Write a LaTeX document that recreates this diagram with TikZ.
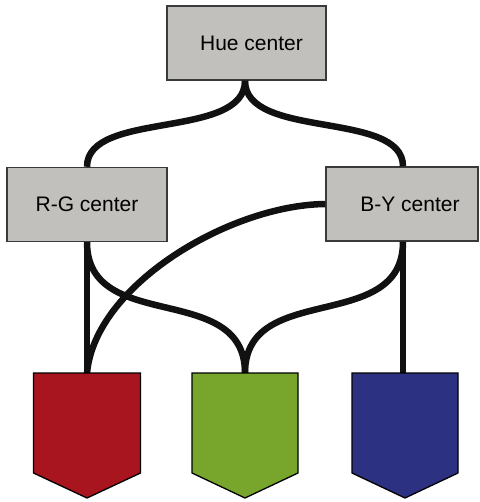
\documentclass[tikz,border=0pt]{standalone}
\usepackage{fontspec}
\setmainfont{Liberation Sans}
\definecolor{boxgray}{HTML}{C2C0BC}
\definecolor{boxedge}{HTML}{3A3A3A}
\definecolor{cred}{HTML}{A8151F}
\definecolor{cgreen}{HTML}{78A52C}
\definecolor{cblue}{HTML}{2C3181}
\definecolor{wire}{HTML}{111111}
\begin{document}
\begin{tikzpicture}[x=1pt,y=-1pt,
  centerbox/.style={draw=boxedge,fill=boxgray,line width=1.4pt,inner sep=0pt,
    minimum height=74pt,font=\fontsize{21}{24}\selectfont},
  wireline/.style={draw=wire,line width=6.5pt},
  cone/.style={draw=black,line width=1.3pt,line join=miter}]
\useasboundingbox (0,0) rectangle (479,502);
% boxes
\node[centerbox,minimum width=159pt] (hue) at (246.5,43) {\hspace*{10pt}Hue center};
\node[centerbox,minimum width=160pt] (rg) at (87,204.5) {R-G center};
\node[centerbox,minimum width=152pt] (by) at (402,204) {\hspace*{16pt}B-Y center};
% cone tops
\coordinate (redtop) at (87,373);
\coordinate (greentop) at (245,373);
\coordinate (bluetop) at (405,373);
% wires
\draw[wireline] ([xshift=-1.5pt]hue.south) .. controls (245,140) and (87,110) .. (rg.north);
\draw[wireline] ([xshift=-1.5pt]hue.south) .. controls (245,140) and (403,110) .. ([xshift=1pt]by.north);
\draw[wireline] (rg.south) -- (redtop);
\draw[wireline] (rg.south) .. controls (87,335) and (245,280) .. (greentop);
\draw[wireline] ([xshift=1pt]by.south) .. controls (403,335) and (245,280) .. (greentop);
\draw[wireline] ([xshift=1pt]by.south) -- ([xshift=1pt]by.south |- bluetop);
\draw[wireline] (by.west) .. controls (230,205) and (95,285) .. (redtop);
% cones
\draw[cone,fill=cred] ([xshift=-53.5pt]redtop) -- ++(107,0) -- ++(0,100) -- (87,498) -- (33.5,473) -- cycle;
\draw[cone,fill=cgreen] ([xshift=-53pt]greentop) -- ++(106,0) -- ++(0,100) -- (245,498) -- (192,473) -- cycle;
\draw[cone,fill=cblue] ([xshift=-53pt]bluetop) -- ++(106,0) -- ++(0,100) -- (405,498) -- (352,473) -- cycle;
\end{tikzpicture}
\end{document}
